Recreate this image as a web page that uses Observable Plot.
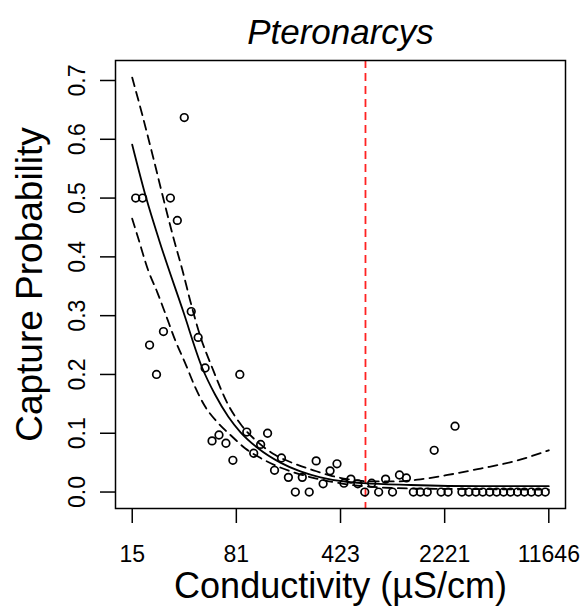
<!DOCTYPE html>
<html>
<head>
<meta charset="utf-8">
<script src="https://cdn.jsdelivr.net/npm/d3@7"></script>
<script src="https://cdn.jsdelivr.net/npm/@observablehq/plot@0.6"></script>
<style>
  html, body { margin: 0; padding: 0; background: #ffffff; }
</style>
</head>
<body>
<div id="chart"></div>
<script>
// ---- Data ----
const chartTitle = "Pteronarcys";
const xLabel = "Conductivity (µS/cm)";
const yLabel = "Capture Probability";

// Bin centres (µS/cm), 60 log-spaced bins
const conductivity = [
  16.27, 18.17, 20.29, 22.66, 25.31, 28.26, 31.56, 35.25, 39.37, 43.97,
  49.10, 54.84, 61.24, 68.39, 76.38, 85.30, 95.26, 106.4, 118.8, 132.7,
  148.2, 165.5, 184.8, 206.4, 230.5, 257.4, 287.5, 321.1, 358.6, 400.4,
  447.2, 499.4, 557.7, 622.9, 695.6, 776.9, 867.6, 968.9, 1082, 1208,
  1350, 1507, 1683, 1880, 2100, 2345, 2619, 2924, 3266, 3647,
  4073, 4549, 5080, 5674, 6336, 7076, 7903, 8826, 9857, 11008
];
// Observed capture probability per bin
const captureProb = [
  0.50, 0.50, 0.25, 0.20, 0.273, 0.50, 0.462, 0.637, 0.307, 0.263,
  0.211, 0.087, 0.097, 0.083, 0.054, 0.20, 0.102, 0.066, 0.081, 0.100,
  0.037, 0.058, 0.025, 0.0, 0.025, 0.0, 0.053, 0.014, 0.036, 0.048,
  0.015, 0.022, 0.014, 0.0, 0.015, 0.0, 0.022, 0.0, 0.029, 0.024,
  0.0, 0.0, 0.0, 0.071, 0.0, 0.0, 0.112, 0.0, 0.0, 0.0,
  0.0, 0.0, 0.0, 0.0, 0.0, 0.0, 0.0, 0.0, 0.0, 0.0
];

// Fitted curve (solid)
const fitX = [15.39, 19.24, 23.66, 34.68, 46.95, 57.75, 71.05, 86.02, 114.6, 162.7, 223.7, 307.7, 443.9, 610.5, 1291, 3940, 11640];
const fitY = [0.591, 0.500, 0.428, 0.307, 0.211, 0.165, 0.128, 0.102, 0.074, 0.050, 0.035, 0.025, 0.018, 0.015, 0.012, 0.010, 0.010];

// Upper confidence band (dashed)
const upperX = [15.39, 17.48, 21.50, 25.22, 29.11, 34.68, 38.78, 45.48, 55.06, 71.05, 86.02, 114.6, 150.2, 209.9, 275.2, 360.8, 473.1, 682.5, 1016, 1443, 2329, 3940, 6665, 11640];
const upperY = [0.705, 0.655, 0.569, 0.500, 0.440, 0.372, 0.325, 0.265, 0.211, 0.148, 0.116, 0.084, 0.063, 0.047, 0.037, 0.028, 0.022, 0.018, 0.018, 0.021, 0.029, 0.040, 0.052, 0.071];

// Lower confidence band (dashed)
const lowerX = [15.39, 16.93, 19.86, 22.92, 26.04, 30.53, 35.81, 41.99, 49.24, 60.58, 75.72, 93.14, 114.6, 157.6, 216.7, 298.0, 443.9, 682.5, 1291, 3940, 11640];
const lowerY = [0.465, 0.432, 0.377, 0.340, 0.304, 0.258, 0.219, 0.178, 0.145, 0.117, 0.094, 0.074, 0.060, 0.043, 0.031, 0.022, 0.014, 0.009, 0.006, 0.005, 0.004];

// Threshold (red dashed vertical line)
const threshold = [630];

// Axis ticks
const xTickValues = [15.4, 80.7, 423.5, 2221, 11646];
const xTickLabels = ["15", "81", "423", "2221", "11646"];
const yTickValues = [0, 0.1, 0.2, 0.3, 0.4, 0.5, 0.6, 0.7];
const yTickLabels = ["0.0", "0.1", "0.2", "0.3", "0.4", "0.5", "0.6", "0.7"];

// ---- Build tables ----
const points = conductivity.map((c, i) => ({c, p: captureProb[i]}));
const fit = fitX.map((c, i) => ({c, p: fitY[i]}));
const upper = upperX.map((c, i) => ({c, p: upperY[i]}));
const lower = lowerX.map((c, i) => ({c, p: lowerY[i]}));
const xTicks = xTickValues.map((v, i) => ({v, label: xTickLabels[i]}));
const yLab = new Map(yTickValues.map((v, i) => [v, yTickLabels[i]]));

const font = "'Liberation Sans', Arial, Helvetica, sans-serif";

const chart = Plot.plot({
  width: 586,
  height: 610,
  marginLeft: 115,
  marginRight: 21,
  marginTop: 60,
  marginBottom: 102,
  style: {fontFamily: font, background: "#ffffff", color: "#000000", overflow: "visible"},
  x: {type: "log", domain: [11.8, 15190]},
  y: {domain: [-0.028, 0.734]},
  marks: [
    Plot.ruleX(threshold, {stroke: "#f22", strokeWidth: 1.8, strokeDasharray: "8,5"}),
    Plot.line(upper, {x: "c", y: "p", stroke: "#000", strokeWidth: 1.8, strokeDasharray: "9,6", curve: "monotone-x"}),
    Plot.line(lower, {x: "c", y: "p", stroke: "#000", strokeWidth: 1.8, strokeDasharray: "9,6", curve: "monotone-x"}),
    Plot.line(fit, {x: "c", y: "p", stroke: "#000", strokeWidth: 1.8, curve: "monotone-x"}),
    Plot.dot(points, {x: "c", y: "p", r: 3.8, stroke: "#000", strokeWidth: 1.7, fill: "none"}),
    Plot.frame({stroke: "#000", strokeWidth: 1.5}),
    Plot.axisX(xTickValues, {
      tickSize: 15, strokeWidth: 1.5, tickFormat: () => "", label: null
    }),
    Plot.text(xTicks, {
      x: "v", text: "label", frameAnchor: "bottom", dy: 37, lineAnchor: "top", fontSize: 23, fill: "#000"
    }),
    Plot.axisY(yTickValues, {
      tickSize: 15, tickPadding: 16, fontSize: 23, strokeWidth: 1.5, tickRotate: -90,
      tickFormat: d => yLab.get(d), label: null
    }),
    Plot.text([chartTitle], {frameAnchor: "top", dy: -17, lineAnchor: "bottom", fontSize: 35, fontStyle: "italic", fill: "#000"}),
    Plot.text([xLabel], {frameAnchor: "bottom", dy: 89, lineAnchor: "bottom", fontSize: 36, fill: "#000"}),
    Plot.text([yLabel], {frameAnchor: "left", dx: -100, rotate: -90, textAnchor: "middle", lineAnchor: "top", fontSize: 37, fill: "#000"})
  ]
});
document.getElementById("chart").appendChild(chart);
</script>
</body>
</html>
